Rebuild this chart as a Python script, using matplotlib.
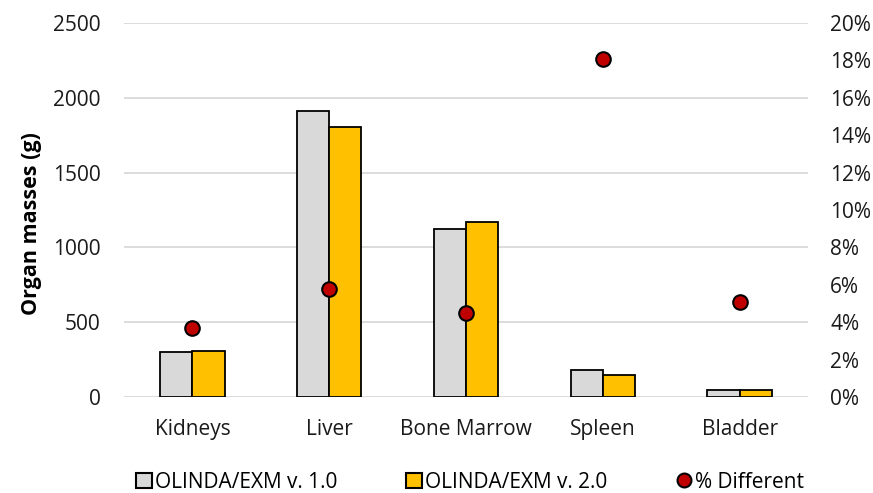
import matplotlib.pyplot as plt
import numpy as np
from matplotlib.lines import Line2D
from matplotlib.patches import Patch

plt.rcParams['font.family'] = ['Open Sans', 'DejaVu Sans']

organs = ['Kidneys', 'Liver', 'Bone Marrow', 'Spleen', 'Bladder']
mass_v1 = [299, 1911, 1120, 183, 45]
mass_v2 = [310, 1802, 1170, 150, 47]
pct_diff = [3.7, 5.8, 4.5, 18.1, 5.1]  # percent

fig = plt.figure(figsize=(8.73, 4.93), dpi=100)
ax = fig.add_axes([124/873, 1-397/493, (808-124)/873, (397-23)/493])

x = np.arange(len(organs))
w = 0.235
ax.bar(x - w/2, mass_v1, w, color='#D9D9D9', edgecolor='black', linewidth=1.3, zorder=3)
ax.bar(x + w/2, mass_v2, w, color='#FFC000', edgecolor='black', linewidth=1.3, zorder=3)

ax.set_xlim(-0.5, len(organs) - 0.5)
ax.set_ylim(0, 2500)
ax.set_yticks(np.arange(0, 2501, 500))
ax.set_xticks(x)
ax.set_xticklabels(organs)
ax.yaxis.grid(True, color='#D9D9D9', linewidth=1.3, zorder=0)
ax.set_axisbelow(True)
for s in ax.spines.values():
    s.set_visible(False)
ax.tick_params(axis='y', length=0, labelsize=15, colors='#1a1a1a', pad=17)
ax.tick_params(axis='x', length=0, labelsize=15, colors='#1a1a1a', pad=16)
ax.set_ylabel('Organ masses (g)', fontsize=15.5, fontweight='bold')
ax.yaxis.set_label_coords(-0.12, 0.465)

ax2 = ax.twinx()
ax2.scatter(x, pct_diff, s=110, color='#C00000', edgecolor='black', linewidth=1.5, zorder=5)
ax2.set_ylim(0, 20)
ax2.set_yticks(np.arange(0, 21, 2))
ax2.set_yticklabels([f'{v}%' for v in range(0, 21, 2)])
for s in ax2.spines.values():
    s.set_visible(False)
ax2.tick_params(length=0, labelsize=15, colors='#1a1a1a', pad=16)

handles = [Patch(facecolor='#D9D9D9', edgecolor='black', linewidth=1.5),
           Patch(facecolor='#FFC000', edgecolor='black', linewidth=1.5),
           Line2D([], [], marker='o', linestyle='', markersize=10, markerfacecolor='#C00000',
                  markeredgecolor='black', markeredgewidth=1.5)]
fig.legend(handles, ['OLINDA/EXM v. 1.0', 'OLINDA/EXM v. 2.0', '% Different'],
           loc='center', bbox_to_anchor=(470/873, 1-482/493), ncol=3, frameon=False,
           fontsize=15, handlelength=0.75, handleheight=0.75, handletextpad=0.15, columnspacing=3.3)

plt.savefig('out.png', dpi=100)
